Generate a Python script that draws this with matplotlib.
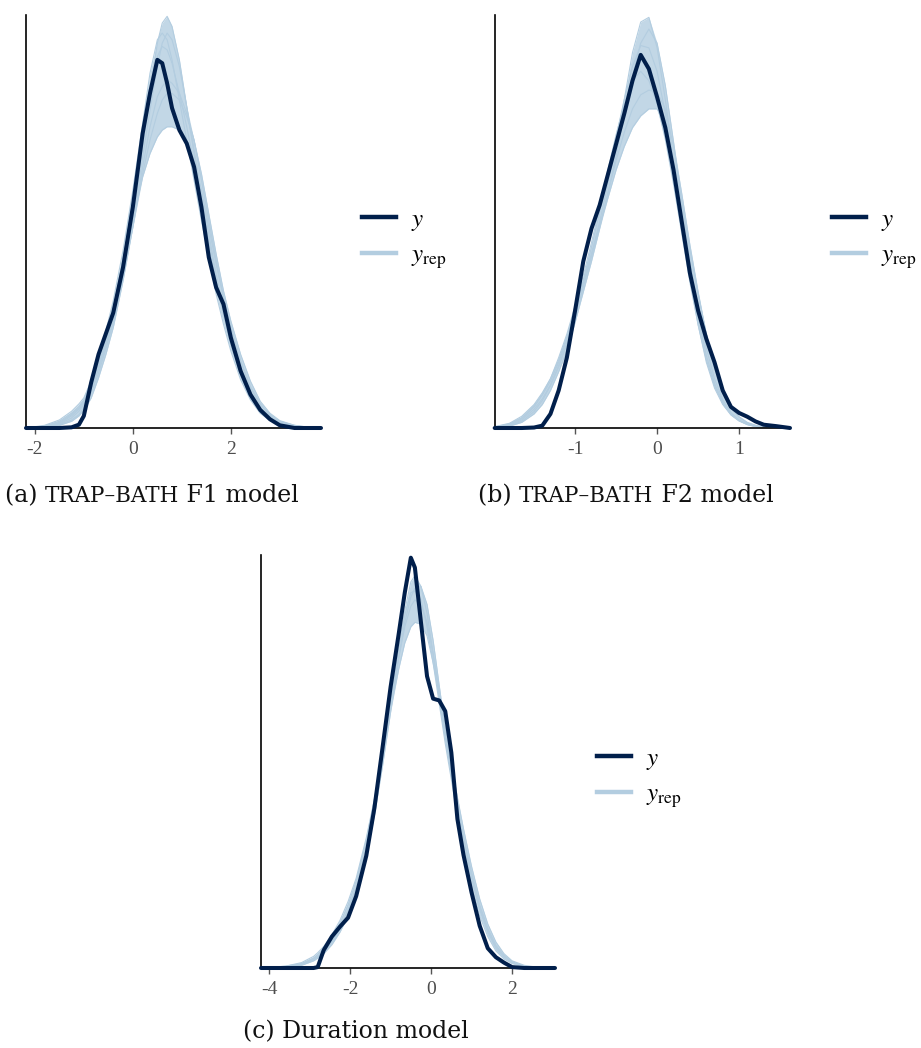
import matplotlib.pyplot as plt
from matplotlib.lines import Line2D
import numpy as np

plt.rcParams['mathtext.fontset'] = 'stix'
plt.rcParams['font.family'] = ['Liberation Serif', 'DejaVu Serif']
plt.rcParams['axes.unicode_minus'] = False

dark = '#011f4b'
light = '#b3cde0'

# (a) TRAP-BATH F1 model: densities
xa = [-2.18, -1.8, -1.5, -1.25, -1.1, -1.0, -0.85, -0.7, -0.55, -0.4, -0.2, 0.0, 0.2, 0.35, 0.5, 0.6, 0.7,
      0.8, 0.95, 1.1, 1.25, 1.4, 1.55, 1.7, 1.85, 2.0, 2.2, 2.4, 2.6, 2.8, 3.0, 3.3, 3.6, 3.84]
ya_obs = [0, 0, 0, 0.001, 0.005, 0.018, 0.068, 0.11, 0.141, 0.172, 0.24, 0.33, 0.44, 0.5, 0.55, 0.545, 0.515,
          0.478, 0.445, 0.425, 0.39, 0.33, 0.255, 0.21, 0.185, 0.135, 0.085, 0.05, 0.027, 0.013, 0.004, 0, 0, 0]
ya_rep = [
    [0, 0.003, 0.008, 0.02, 0.03, 0.04, 0.065, 0.095, 0.13, 0.17, 0.24, 0.32, 0.42, 0.5, 0.575, 0.605, 0.615,
     0.6, 0.55, 0.48, 0.41, 0.34, 0.28, 0.22, 0.17, 0.13, 0.085, 0.05, 0.028, 0.015, 0.008, 0.003, 0.001, 0],
    [0, 0.002, 0.006, 0.015, 0.025, 0.035, 0.06, 0.09, 0.125, 0.165, 0.24, 0.33, 0.43, 0.5, 0.555, 0.57, 0.565,
     0.545, 0.5, 0.45, 0.395, 0.335, 0.275, 0.22, 0.17, 0.125, 0.08, 0.048, 0.026, 0.013, 0.006, 0.002, 0, 0],
    [0, 0.004, 0.012, 0.025, 0.036, 0.045, 0.07, 0.1, 0.135, 0.17, 0.235, 0.31, 0.375, 0.41, 0.435, 0.445, 0.45,
     0.45, 0.445, 0.43, 0.4, 0.355, 0.3, 0.245, 0.195, 0.15, 0.1, 0.062, 0.036, 0.02, 0.01, 0.004, 0.001, 0],
    [0, 0.001, 0.004, 0.01, 0.018, 0.026, 0.045, 0.075, 0.11, 0.15, 0.22, 0.3, 0.39, 0.45, 0.495, 0.51, 0.52,
     0.515, 0.5, 0.47, 0.43, 0.37, 0.31, 0.25, 0.195, 0.15, 0.1, 0.06, 0.035, 0.018, 0.009, 0.003, 0.001, 0],
    [0, 0.003, 0.01, 0.022, 0.032, 0.042, 0.07, 0.105, 0.145, 0.19, 0.265, 0.355, 0.455, 0.53, 0.58, 0.59, 0.58,
     0.55, 0.49, 0.43, 0.37, 0.31, 0.255, 0.2, 0.155, 0.115, 0.072, 0.042, 0.022, 0.011, 0.005, 0.002, 0, 0],
    [0, 0.002, 0.007, 0.018, 0.028, 0.037, 0.058, 0.088, 0.12, 0.16, 0.225, 0.3, 0.38, 0.43, 0.47, 0.49, 0.5,
     0.5, 0.49, 0.465, 0.43, 0.38, 0.32, 0.26, 0.205, 0.16, 0.11, 0.07, 0.04, 0.022, 0.011, 0.004, 0.001, 0],
    [0, 0.002, 0.005, 0.012, 0.02, 0.03, 0.052, 0.082, 0.118, 0.158, 0.228, 0.31, 0.405, 0.475, 0.54, 0.575, 0.59,
     0.58, 0.54, 0.48, 0.415, 0.35, 0.29, 0.23, 0.178, 0.135, 0.088, 0.052, 0.03, 0.016, 0.008, 0.003, 0.001, 0],
]

# (b) TRAP-BATH F2 model
xb = [-1.98, -1.8, -1.65, -1.5, -1.4, -1.3, -1.2, -1.1, -1.0, -0.9, -0.8, -0.7, -0.6, -0.5, -0.4, -0.3, -0.2,
      -0.1, 0.0, 0.1, 0.2, 0.3, 0.4, 0.5, 0.6, 0.7, 0.8, 0.9, 1.0, 1.1, 1.2, 1.3, 1.45, 1.62]
yb_obs = [0, 0, 0, 0.001, 0.005, 0.03, 0.08, 0.15, 0.25, 0.355, 0.425, 0.475, 0.54, 0.605, 0.67, 0.74, 0.795,
          0.765, 0.705, 0.64, 0.55, 0.44, 0.33, 0.25, 0.19, 0.14, 0.08, 0.045, 0.032, 0.024, 0.014, 0.007, 0.004, 0]
yb_rep = [
    [0.002, 0.008, 0.02, 0.045, 0.07, 0.1, 0.14, 0.19, 0.25, 0.31, 0.37, 0.44, 0.52, 0.6, 0.7, 0.8, 0.865,
     0.875, 0.81, 0.7, 0.57, 0.44, 0.32, 0.22, 0.14, 0.085, 0.05, 0.028, 0.015, 0.008, 0.004, 0.002, 0, 0],
    [0.001, 0.005, 0.014, 0.035, 0.058, 0.09, 0.13, 0.18, 0.245, 0.315, 0.385, 0.46, 0.54, 0.62, 0.7, 0.77, 0.815,
     0.81, 0.76, 0.67, 0.56, 0.44, 0.33, 0.235, 0.155, 0.095, 0.055, 0.03, 0.016, 0.008, 0.004, 0.001, 0, 0],
    [0.003, 0.01, 0.025, 0.05, 0.075, 0.105, 0.145, 0.195, 0.25, 0.31, 0.37, 0.43, 0.49, 0.55, 0.6, 0.64, 0.665,
     0.68, 0.68, 0.645, 0.575, 0.48, 0.38, 0.285, 0.2, 0.13, 0.08, 0.045, 0.024, 0.012, 0.006, 0.002, 0, 0],
    [0.001, 0.004, 0.012, 0.03, 0.05, 0.08, 0.12, 0.165, 0.225, 0.29, 0.355, 0.425, 0.5, 0.58, 0.665, 0.75, 0.82,
     0.85, 0.82, 0.73, 0.61, 0.48, 0.36, 0.255, 0.17, 0.105, 0.06, 0.033, 0.017, 0.008, 0.003, 0.001, 0, 0],
    [0.002, 0.009, 0.022, 0.048, 0.072, 0.105, 0.15, 0.2, 0.26, 0.325, 0.395, 0.47, 0.55, 0.625, 0.69, 0.74, 0.76,
     0.74, 0.69, 0.615, 0.52, 0.415, 0.31, 0.22, 0.145, 0.09, 0.052, 0.028, 0.015, 0.007, 0.003, 0.001, 0, 0],
    [0.001, 0.006, 0.017, 0.04, 0.062, 0.092, 0.133, 0.18, 0.235, 0.3, 0.365, 0.43, 0.5, 0.57, 0.63, 0.68, 0.71,
     0.72, 0.715, 0.68, 0.6, 0.5, 0.39, 0.29, 0.2, 0.13, 0.078, 0.043, 0.023, 0.011, 0.005, 0.002, 0, 0],
]

# (c) Duration model
xc = [-4.2, -3.6, -3.2, -2.9, -2.8, -2.65, -2.45, -2.25, -2.05, -1.85, -1.6, -1.4, -1.2, -1.0, -0.8, -0.65,
      -0.5, -0.4, -0.25, -0.1, 0.05, 0.2, 0.35, 0.5, 0.65, 0.8, 1.0, 1.2, 1.4, 1.6, 1.8, 2.0, 2.3, 2.6, 3.06]
yc_obs = [0, 0, 0, 0, 0.001, 0.02, 0.035, 0.046, 0.056, 0.08, 0.125, 0.178, 0.245, 0.313, 0.372, 0.418,
          0.457, 0.446, 0.385, 0.325, 0.3, 0.298, 0.286, 0.24, 0.166, 0.126, 0.084, 0.047, 0.022, 0.012, 0.006,
          0.001, 0, 0, 0]
yc_rep = [
    [0, 0.001, 0.004, 0.01, 0.013, 0.019, 0.03, 0.045, 0.065, 0.09, 0.135, 0.18, 0.235, 0.295, 0.355, 0.398,
     0.43, 0.437, 0.425, 0.395, 0.35, 0.3, 0.255, 0.215, 0.175, 0.14, 0.1, 0.065, 0.04, 0.022, 0.012, 0.006,
     0.002, 0, 0],
    [0, 0.002, 0.005, 0.011, 0.015, 0.022, 0.034, 0.05, 0.07, 0.097, 0.142, 0.187, 0.24, 0.295, 0.345, 0.38,
     0.403, 0.41, 0.405, 0.385, 0.35, 0.31, 0.265, 0.222, 0.18, 0.145, 0.105, 0.07, 0.044, 0.025, 0.014, 0.007,
     0.002, 0.001, 0],
    [0, 0.001, 0.003, 0.008, 0.011, 0.016, 0.026, 0.04, 0.058, 0.082, 0.125, 0.17, 0.225, 0.285, 0.345, 0.385,
     0.413, 0.423, 0.425, 0.405, 0.365, 0.315, 0.265, 0.222, 0.18, 0.145, 0.105, 0.068, 0.042, 0.024, 0.013,
     0.006, 0.002, 0, 0],
    [0, 0.002, 0.006, 0.013, 0.017, 0.024, 0.037, 0.053, 0.074, 0.1, 0.145, 0.188, 0.237, 0.288, 0.333, 0.362,
     0.38, 0.385, 0.383, 0.37, 0.34, 0.305, 0.267, 0.228, 0.19, 0.155, 0.113, 0.077, 0.049, 0.029, 0.016,
     0.008, 0.003, 0.001, 0],
    [0, 0.001, 0.004, 0.009, 0.012, 0.018, 0.029, 0.043, 0.063, 0.088, 0.132, 0.178, 0.235, 0.297, 0.355,
     0.393, 0.418, 0.42, 0.41, 0.38, 0.34, 0.295, 0.25, 0.21, 0.17, 0.133, 0.092, 0.058, 0.035, 0.019, 0.01,
     0.005, 0.001, 0, 0],
]

W, H = 921, 1048
fig = plt.figure(figsize=(W / 100, H / 100), dpi=100)


def panel(left, right, top, bottom, x, obs, reps, xlim, ytop, ticks):
    ax = fig.add_axes([left / W, 1 - bottom / H, (right - left) / W, (bottom - top) / H])
    reps = np.array(reps)
    ax.fill_between(x, reps.min(axis=0), reps.max(axis=0), color=light, alpha=0.8, lw=0)
    for r in reps:
        ax.plot(x, r, color=light, lw=0.8)
    ax.plot(x, obs, color=dark, lw=2.9, solid_joinstyle='round', solid_capstyle='round',
            clip_on=False, zorder=5)
    ax.set_xlim(xlim)
    ax.set_ylim(0, ytop)
    ax.set_xticks(ticks)
    ax.set_xticklabels([str(t) for t in ticks])
    ax.set_yticks([])
    ax.spines[['top', 'right']].set_visible(False)
    ax.spines[['left', 'bottom']].set_linewidth(1.2)
    ax.tick_params(axis='x', length=4, width=1, color='#555555', labelsize=14,
                   labelcolor='#4d4d4d', pad=5)
    return ax


panel(26, 321, 15, 428, xa, ya_obs, ya_rep, (-2.18, 3.84), 0.617, [-2, 0, 2])
panel(495, 790, 15, 428, xb, yb_obs, yb_rep, (-1.976, 1.62), 0.88, [-1, 0, 1])
panel(261, 555, 555, 968, xc, yc_obs, yc_rep, (-4.2, 3.06), 0.46, [-4, -2, 0, 2])


def add_legend(x, y):
    handles = [Line2D([], [], color=dark, lw=3.2), Line2D([], [], color=light, lw=3.2)]
    fig.legend(handles, ['$y$', '$y_{\\mathrm{rep}}$'], loc='center left',
               bbox_to_anchor=(x / W, 1 - y / H), frameon=False, fontsize=18,
               handlelength=1.35, handletextpad=0.6, labelspacing=0.45,
               borderpad=0, borderaxespad=0)


add_legend(362, 240)
add_legend(832, 240)
add_legend(597, 779)


def caption(x, y, parts):
    renderer = fig.canvas.get_renderer()
    for text, size in parts:
        t = fig.text(x / W, 1 - y / H, text, fontsize=size, family='DejaVu Serif',
                     va='baseline', ha='left', color='#111111')
        x = t.get_window_extent(renderer).x1


caption(5, 502, [('(a) ', 17), ('TRAP–BATH', 15.5), (' F1 model', 17)])
caption(478, 502, [('(b) ', 17), ('TRAP–BATH', 15.5), (' F2 model', 17)])
caption(243, 1038, [('(c) Duration model', 17)])

fig.savefig('out.png', dpi=100)
